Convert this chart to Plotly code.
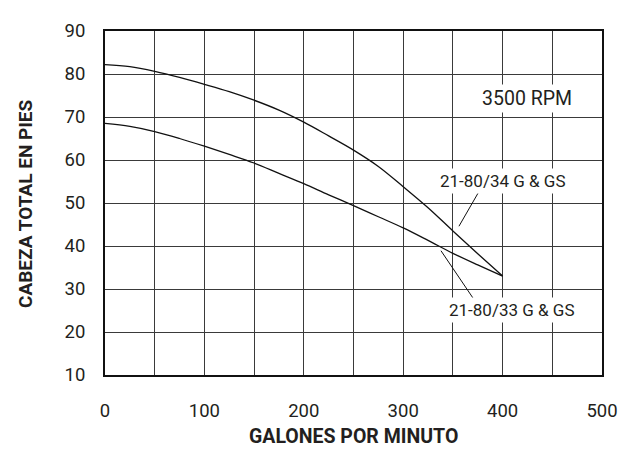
import plotly.graph_objects as go

# Data
gpm = [0, 25, 50, 75, 100, 125, 150, 175, 200, 225, 250, 275, 300, 325, 350, 375, 400]
head_34 = [82.2, 81.7, 80.6, 79.2, 77.6, 75.9, 73.9, 71.6, 68.8, 65.6, 62.3, 58.5, 53.8, 48.9, 43.5, 38.2, 33.0]
head_33 = [68.5, 67.8, 66.6, 65.0, 63.2, 61.3, 59.3, 56.9, 54.5, 51.9, 49.4, 46.8, 44.2, 41.3, 38.3, 35.6, 33.0]

x_ticks = [0, 100, 200, 300, 400, 500]
y_ticks = [10, 20, 30, 40, 50, 60, 70, 80, 90]

label_34 = "21-80/34 G & GS"
label_33 = "21-80/33 G & GS"
rpm_label = "3500 RPM"
x_title = "GALONES POR MINUTO"
y_title = "CABEZA TOTAL EN PIES"

# annotation anchor points (data coords)
label_34_pos = (400, 55.2)
label_33_pos = (409, 25.1)
rpm_pos = (425, 74.4)
leader_34 = [(375.3, 52.3), (356.1, 44.6)]
leader_33 = [(370.2, 27.9), (338.0, 38.9)]

FONT = "Roboto"
TXT = "#231f20"
GRID = "#3a3a3a"

fig = go.Figure()
fig.add_trace(go.Scatter(x=gpm, y=head_34, mode="lines", line=dict(color="#111", width=1.3),
                         line_shape="spline", showlegend=False, hoverinfo="skip"))
fig.add_trace(go.Scatter(x=gpm, y=head_33, mode="lines", line=dict(color="#111", width=1.3),
                         line_shape="spline", showlegend=False, hoverinfo="skip"))

for (x0, y0), (x1, y1) in [leader_34, leader_33]:
    fig.add_shape(type="line", x0=x0, y0=y0, x1=x1, y1=y1, xref="x", yref="y",
                  line=dict(color="#111", width=1))

fig.add_annotation(x=rpm_pos[0], y=rpm_pos[1], text=rpm_label, showarrow=False,
                   font=dict(family=FONT, size=19.5, color=TXT), bgcolor="white", borderpad=2)
fig.add_annotation(x=label_34_pos[0], y=label_34_pos[1], text=label_34, showarrow=False,
                   font=dict(family=FONT, size=17, color=TXT), bgcolor="white", borderpad=2)
fig.add_annotation(x=label_33_pos[0], y=label_33_pos[1], text=label_33, showarrow=False,
                   font=dict(family=FONT, size=17, color=TXT), bgcolor="white", borderpad=2)

fig.add_annotation(x=0.5, y=0, xref="paper", yref="paper", yshift=-74, yanchor="bottom",
                   text="<b>" + x_title + "</b>", showarrow=False, borderpad=0,
                   font=dict(family=FONT, size=19.5, color=TXT))
fig.add_annotation(x=-0.161, y=0.5, xref="paper", yref="paper", xanchor="center", yanchor="middle",
                   text="<b>" + y_title + "</b>", textangle=-90, showarrow=False,
                   font=dict(family=FONT, size=19, color=TXT))

fig.update_xaxes(range=[0, 500], tickvals=x_ticks, showgrid=True, gridcolor=GRID, gridwidth=1,
                 minor=dict(dtick=50, showgrid=True, gridcolor=GRID, gridwidth=1),
                 showline=True, linecolor="#111", linewidth=2, mirror=True,
                 ticks="", zeroline=False, ticklabelstandoff=18,
                 tickfont=dict(family=FONT, size=18.5, color=TXT))
fig.update_yaxes(range=[10, 90], tickvals=y_ticks, showgrid=True, gridcolor=GRID, gridwidth=1,
                 showline=True, linecolor="#111", linewidth=2, mirror=True,
                 ticks="", zeroline=False, ticklabelstandoff=14,
                 tickfont=dict(family=FONT, size=18.5, color=TXT))

# page body has an 8px margin, so the figure is shrunk by 8px and margins shifted
fig.update_layout(width=626, height=442, margin=dict(l=97, r=32, t=13, b=75),
                  plot_bgcolor="white", paper_bgcolor="white", showlegend=False)

fig.write_html("out.html")
